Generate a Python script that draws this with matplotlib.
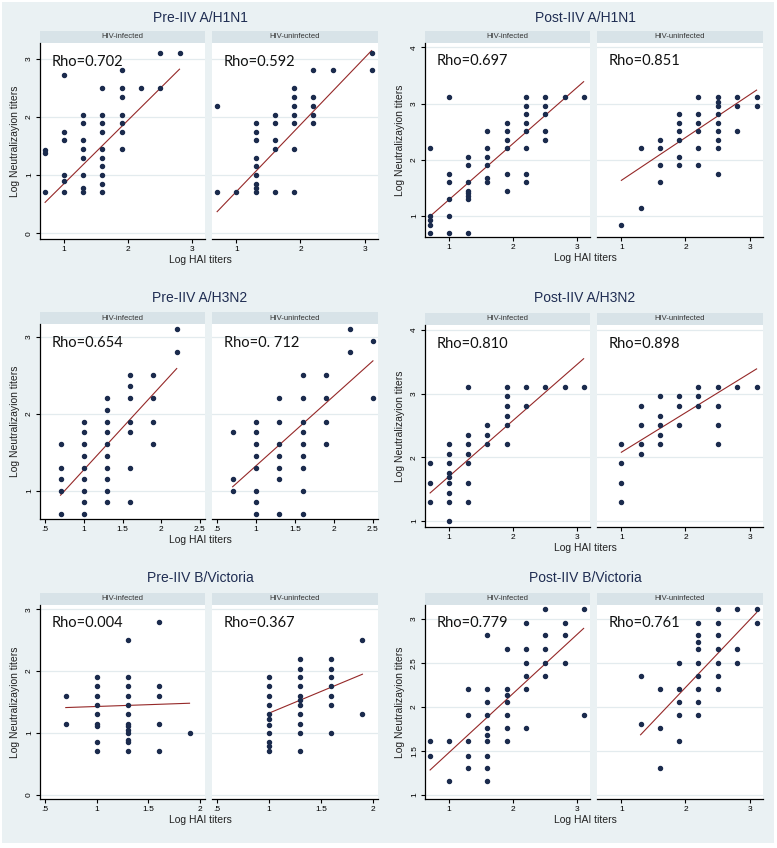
import matplotlib
matplotlib.use("Agg")
import matplotlib.pyplot as plt
from matplotlib.patches import Rectangle

# ---------------- data (log10 titres) ----------------
titles = ["Pre-IIV A/H1N1", "Post-IIV A/H1N1", "Pre-IIV A/H3N2",
          "Post-IIV A/H3N2", "Pre-IIV B/Victoria", "Post-IIV B/Victoria"]
groups = ["HIV-infected", "HIV-uninfected"]

pre_h1n1_inf = [
    (0.70, [1.43, 1.38, 0.70]),
    (1.00, [2.72, 1.74, 1.60, 1.00, 0.89, 0.70]),
    (1.30, [2.04, 1.89, 1.60, 1.45, 1.30, 1.00, 0.77, 0.70]),
    (1.60, [2.50, 2.04, 1.89, 1.74, 1.45, 1.30, 1.15, 1.00, 0.84, 0.70]),
    (1.90, [2.80, 2.50, 2.34, 2.04, 1.89, 1.74, 1.45]),
    (2.20, [2.50]),
    (2.51, [3.10, 2.50]),
    (2.81, [3.10]),
]
pre_h1n1_uninf = [
    (0.70, [2.19, 0.70]),
    (1.00, [0.70]),
    (1.30, [1.89, 1.74, 1.60, 1.30, 1.15, 1.00, 0.84, 0.77, 0.70]),
    (1.60, [2.04, 1.89, 1.60, 1.45, 0.70]),
    (1.90, [2.50, 2.34, 2.19, 2.04, 1.89, 1.45, 0.70]),
    (2.20, [2.80, 2.34, 2.19, 2.04, 1.89]),
    (2.51, [2.80]),
    (3.11, [3.10, 2.80]),
]
post_h1n1_inf = [
    (0.70, [2.20, 1.00, 0.92, 0.84, 0.69]),
    (1.00, [3.11, 1.75, 1.60, 1.30, 1.00, 0.69]),
    (1.30, [2.05, 1.90, 1.60, 1.44, 1.40, 1.35, 1.29, 0.69]),
    (1.60, [2.51, 2.20, 2.05, 1.90, 1.68, 1.60]),
    (1.90, [2.65, 2.51, 2.35, 2.20, 1.75, 1.44]),
    (2.20, [3.11, 2.96, 2.81, 2.65, 2.51, 2.20, 1.75, 1.60]),
    (2.51, [3.11, 2.96, 2.81, 2.51, 2.35]),
    (2.81, [3.11]),
    (3.11, [3.11]),
]
post_h1n1_uninf = [
    (1.00, [0.84]),
    (1.30, [2.20, 1.14]),
    (1.60, [2.35, 2.20, 1.90, 1.60]),
    (1.90, [2.81, 2.65, 2.51, 2.35, 2.05, 1.90]),
    (2.20, [3.11, 2.81, 2.65, 2.51, 2.20, 1.90]),
    (2.51, [3.11, 3.03, 2.96, 2.81, 2.65, 2.51, 2.35, 2.20, 1.75]),
    (2.81, [3.11, 2.96, 2.51]),
    (3.11, [3.11, 2.96]),
]
pre_h3n2_inf = [
    (0.70, [1.61, 1.30, 1.15, 1.00, 0.70]),
    (1.00, [1.90, 1.76, 1.61, 1.45, 1.30, 1.15, 1.00, 0.85, 0.70]),
    (1.30, [2.20, 2.05, 1.90, 1.76, 1.61, 1.45, 1.30, 1.15, 1.00, 0.85]),
    (1.60, [2.50, 2.36, 2.20, 1.90, 1.76, 1.30, 0.85]),
    (1.90, [2.50, 2.20, 1.90, 1.61]),
    (2.20, [3.10, 2.80]),
]
pre_h3n2_uninf = [
    (0.70, [1.76, 1.15, 1.00]),
    (1.00, [1.90, 1.76, 1.61, 1.45, 1.30, 1.00, 0.85, 0.70]),
    (1.30, [2.20, 1.90, 1.61, 1.45, 1.30, 1.15, 0.70]),
    (1.60, [2.50, 2.20, 1.90, 1.76, 1.61, 1.45, 1.30, 1.00, 0.70]),
    (1.90, [2.50, 2.20, 1.90, 1.61]),
    (2.20, [3.10, 2.80]),
    (2.50, [2.95, 2.20]),
]
post_h3n2_inf = [
    (0.70, [1.91, 1.60, 1.30]),
    (1.00, [2.21, 2.05, 1.91, 1.76, 1.69, 1.60, 1.44, 1.30, 1.00]),
    (1.30, [3.11, 2.35, 2.21, 2.05, 1.91, 1.60, 1.30]),
    (1.60, [2.51, 2.35, 2.21]),
    (1.90, [3.11, 2.96, 2.80, 2.65, 2.51, 2.21]),
    (2.20, [3.11, 2.80]),
    (2.51, [3.11]),
    (2.81, [3.11]),
    (3.11, [3.11]),
]
post_h3n2_uninf = [
    (1.00, [2.21, 1.91, 1.60, 1.30]),
    (1.30, [2.80, 2.51, 2.21, 2.05]),
    (1.60, [2.96, 2.65, 2.51, 2.35, 2.21]),
    (1.90, [2.96, 2.80, 2.51]),
    (2.20, [3.11, 2.96, 2.80]),
    (2.51, [3.11, 2.80, 2.51, 2.21]),
    (2.81, [3.11]),
    (3.11, [3.11]),
]
pre_bvic_inf = [
    (0.70, [1.59, 1.15]),
    (1.00, [1.90, 1.76, 1.59, 1.45, 1.30, 1.15, 1.11, 0.85, 0.70]),
    (1.30, [2.50, 1.90, 1.76, 1.59, 1.45, 1.30, 1.15, 1.11, 1.05, 1.00, 0.89, 0.85, 0.70]),
    (1.60, [2.80, 1.76, 1.59, 1.15, 0.70]),
    (1.90, [1.00]),
]
pre_bvic_uninf = [
    (1.00, [1.90, 1.76, 1.59, 1.45, 1.30, 1.22, 1.12, 1.00, 0.85, 0.78, 0.70]),
    (1.30, [2.20, 2.04, 1.90, 1.76, 1.59, 1.54, 1.45, 1.30, 1.15, 1.00, 0.70]),
    (1.60, [2.20, 2.04, 1.90, 1.76, 1.59, 1.45, 1.00]),
    (1.90, [2.50, 1.30]),
]
post_bvic_inf = [
    (0.70, [1.61, 1.44]),
    (1.00, [1.61, 1.15]),
    (1.30, [2.20, 1.91, 1.61, 1.44, 1.30]),
    (1.60, [2.81, 2.20, 2.05, 1.91, 1.76, 1.68, 1.61, 1.44, 1.30, 1.15]),
    (1.90, [2.65, 2.20, 2.13, 2.05, 1.91, 1.76, 1.61]),
    (2.20, [2.95, 2.65, 2.50, 2.35, 2.20, 1.76]),
    (2.51, [3.11, 2.81, 2.65, 2.50, 2.35]),
    (2.81, [2.95, 2.81, 2.50]),
    (3.11, [3.11, 1.91]),
]
post_bvic_uninf = [
    (1.30, [2.35, 1.80]),
    (1.60, [2.20, 1.76, 1.30]),
    (1.90, [2.50, 2.20, 2.05, 1.91, 1.61]),
    (2.20, [2.95, 2.81, 2.73, 2.65, 2.50, 2.35, 2.20, 2.05, 1.91]),
    (2.51, [3.11, 2.95, 2.81, 2.65, 2.50, 2.35, 2.20]),
    (2.81, [3.11, 2.65, 2.50]),
    (3.11, [3.11, 2.95]),
]

# fitted lines: (x0, y0, x1, y1)
fit_pre_h1n1 = [(0.70, 0.53, 2.81, 2.82), (0.70, 0.37, 3.11, 3.14)]
fit_post_h1n1 = [(0.70, 0.99, 3.11, 3.39), (1.00, 1.63, 3.11, 3.24)]
fit_pre_h3n2 = [(0.70, 0.94, 2.20, 2.59), (0.70, 1.05, 2.50, 2.69)]
fit_post_h3n2 = [(0.70, 1.44, 3.11, 3.55), (1.00, 2.08, 3.11, 3.39)]
fit_pre_bvic = [(0.70, 1.41, 1.90, 1.48), (1.00, 1.32, 1.90, 1.95)]
fit_post_bvic = [(0.70, 1.28, 3.11, 2.89), (1.30, 1.68, 3.11, 3.07)]

rho_pre_h1n1 = ["Rho=0.702", "Rho=0.592"]
rho_post_h1n1 = ["Rho=0.697", "Rho=0.851"]
rho_pre_h3n2 = ["Rho=0.654", "Rho=0. 712"]
rho_post_h3n2 = ["Rho=0.810", "Rho=0.898"]
rho_pre_bvic = ["Rho=0.004", "Rho=0.367"]
rho_post_bvic = ["Rho=0.779", "Rho=0.761"]

xt_a = [1, 2, 3]
xtl_a = ["1", "2", "3"]
xt_b = [0.5, 1, 1.5, 2, 2.5]
xtl_b = [".5", "1", "1.5", "2", "2.5"]
xt_c = [0.5, 1, 1.5, 2]
xtl_c = [".5", "1", "1.5", "2"]
yt_a = [0, 1, 2, 3]
yt_b = [1, 2, 3, 4]
yt_c = [1, 2, 3]
yt_d = [1, 1.5, 2, 2.5, 3]
ytl_d = ["1", "1.5", "2", "2.5", "3"]

# ---------------- layout / style ----------------
W, H = 777, 848
BG = "#eaf1f3"
STRIP = "#d8e3e8"
GRID = "#e3ebee"
NAVY = "#1b2b4d"
RED = "#952828"
SANS = ["Liberation Sans", "DejaVu Sans"]
RHOF = ["Lato", "DejaVu Sans"]

fig = plt.figure(figsize=(W / 100, H / 100), dpi=100)
fig.patch.set_facecolor("white")
fig.patches.append(Rectangle((2 / W, 5 / H), (W - 5) / W, (H - 7) / H,
                             transform=fig.transFigure, facecolor=BG,
                             edgecolor="none", zorder=-10))


def rect(x0, y0, x1, y1):
    return [x0 / W, 1 - y1 / H, (x1 - x0) / W, (y1 - y0) / H]


panels = [
    dict(title=titles[0], ox=0, oy=0, top=43, bot=239, xlim=(0.62, 3.21), ylim=(-0.10, 3.27),
         xt=xt_a, xtl=xtl_a, yt=yt_a, ytl=None,
         data=[pre_h1n1_inf, pre_h1n1_uninf], fit=fit_pre_h1n1, rho=rho_pre_h1n1),
    dict(title=titles[1], ox=385, oy=0, top=43, bot=237, xlim=(0.62, 3.21), ylim=(0.62, 4.08),
         xt=xt_a, xtl=xtl_a, yt=yt_b, ytl=None,
         data=[post_h1n1_inf, post_h1n1_uninf], fit=fit_post_h1n1, rho=rho_post_h1n1),
    dict(title=titles[2], ox=0, oy=280, top=44, bot=239, xlim=(0.435, 2.565), ylim=(0.63, 3.17),
         xt=xt_b, xtl=xtl_b, yt=yt_c, ytl=None,
         data=[pre_h3n2_inf, pre_h3n2_uninf], fit=fit_pre_h3n2, rho=rho_pre_h3n2),
    dict(title=titles[3], ox=385, oy=280, top=45, bot=247, xlim=(0.62, 3.21), ylim=(0.905, 4.08),
         xt=xt_a, xtl=xtl_a, yt=yt_b, ytl=None,
         data=[post_h3n2_inf, post_h3n2_uninf], fit=fit_post_h3n2, rho=rho_post_h3n2),
    dict(title=titles[4], ox=0, oy=560, top=45, bot=239, xlim=(0.45, 2.05), ylim=(-0.07, 3.07),
         xt=xt_c, xtl=xtl_c, yt=yt_a, ytl=None,
         data=[pre_bvic_inf, pre_bvic_uninf], fit=fit_pre_bvic, rho=rho_pre_bvic),
    dict(title=titles[5], ox=385, oy=560, top=45, bot=239, xlim=(0.62, 3.21), ylim=(0.95, 3.156),
         xt=xt_a, xtl=xtl_a, yt=yt_d, ytl=ytl_d,
         data=[post_bvic_inf, post_bvic_uninf], fit=fit_post_bvic, rho=rho_post_bvic),
]

sub_x = [(40, 205), (212, 378)]

for p in panels:
    ox, oy = p["ox"], p["oy"]
    top, bot = oy + p["top"], oy + p["bot"]
    for k in range(2):
        x0, x1 = ox + sub_x[k][0], ox + sub_x[k][1]
        # strip
        sax = fig.add_axes(rect(x0, top - 12, x1, top))
        sax.set_facecolor(STRIP)
        sax.set_xticks([]); sax.set_yticks([])
        for s in sax.spines.values():
            s.set_visible(False)
        sax.text(0.5, 0.5, groups[k], ha="center", va="center", fontsize=5.5,
                 color="#333333", family=SANS, transform=sax.transAxes)

        ax = fig.add_axes(rect(x0, top, x1, bot))
        ax.set_facecolor("white")
        ax.set_xlim(*p["xlim"])
        ax.set_ylim(*p["ylim"])
        for yv in p["yt"]:
            ax.axhline(yv, color=GRID, lw=0.9, zorder=0.5)
        xs, ys = [], []
        for xv, yl in p["data"][k]:
            for yv in yl:
                xs.append(xv); ys.append(yv)
        ax.plot(xs, ys, linestyle="none", marker="o", ms=2.9, color=NAVY,
                mec=NAVY, zorder=3)
        fx0, fy0, fx1, fy1 = p["fit"][k]
        ax.plot([fx0, fx1], [fy0, fy1], color=RED, lw=0.8, zorder=2)
        ax.text(0.07, 0.905, p["rho"][k], transform=ax.transAxes, fontsize=10.5,
                family=RHOF, color="#111111", va="center", ha="left", zorder=4)

        for side in ("top", "right"):
            ax.spines[side].set_visible(False)
        ax.spines["bottom"].set_linewidth(0.9)
        ax.set_xticks(p["xt"])
        ax.set_xticklabels(p["xtl"], family=SANS, fontsize=6)
        ax.tick_params(axis="x", length=3, width=0.8, pad=2)
        if k == 0:
            ax.spines["left"].set_linewidth(0.9)
            ax.set_yticks(p["yt"])
            ax.set_yticklabels(p["ytl"] if p["ytl"] else [str(v) for v in p["yt"]],
                               family=SANS, fontsize=6, rotation=90, va="center")
            ax.tick_params(axis="y", length=3, width=0.8, pad=2)
        else:
            ax.spines["left"].set_visible(False)
            ax.set_yticks([])

    # panel title and axis titles
    fig.text((ox + 200) / W, 1 - (oy + 18) / H, p["title"], ha="center", va="center",
             fontsize=10, family=SANS, color="#1f2d52")
    fig.text((ox + 200) / W, 1 - (oy + p["bot"] + 21) / H, "Log HAI titers",
             ha="center", va="center", fontsize=7.5, family=SANS, color="#222222")
    fig.text((ox + 15) / W, 1 - (top + bot) / 2 / H, "Log Neutralizayion titers",
             ha="center", va="center", rotation=90, fontsize=7.5, family=SANS,
             color="#222222")

fig.savefig("out.png", dpi=100, facecolor=fig.get_facecolor())
